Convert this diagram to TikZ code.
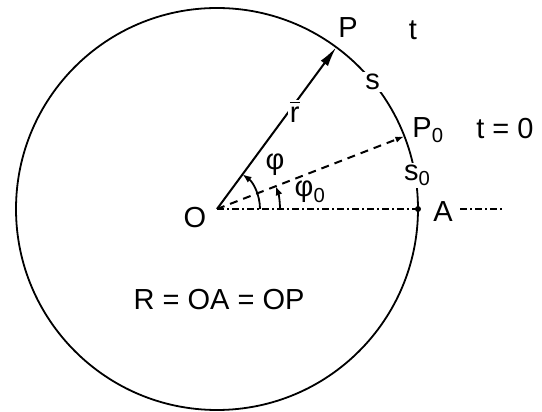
\documentclass[tikz,border=0pt]{standalone}
\usepackage{fontspec}
\setmainfont{Liberation Sans}
\usetikzlibrary{arrows.meta,positioning,calc}
\tikzset{
  lbl/.style={font=\fontsize{29}{31}\selectfont, inner sep=1pt},
  arclbl/.style={lbl, fill=white, inner sep=2pt},
  rim/.style={line width=1.8pt},
  radius vec/.style={line width=2pt, -{Latex[length=20pt,width=9pt]}},
  start vec/.style={line width=2pt, dash pattern=on 8pt off 6pt, -{Latex[length=9pt,width=6pt]}},
  axis/.style={line width=1.6pt, dash pattern=on 7pt off 3pt on 2pt off 3pt},
  anglearc/.style={line width=1.8pt, -{Latex[length=9pt,width=7pt]}},
}
\newcommand{\vecr}{\makebox[0pt][l]{\raisebox{0.66em}{\rule{0.34em}{1.6pt}}}r}
\begin{document}
\begin{tikzpicture}[x=1pt, y=1pt]
  \useasboundingbox (0,0) rectangle (542,412);
  \coordinate (O) at (217,203);
  \draw[rim] (O) circle[radius=201];
  \coordinate (P) at ($(O)+(53.6:201)$);
  \coordinate (P0) at ($(O)+(21.2:201)$);
  \coordinate (A) at ($(O)+(0:201)$);
  \coordinate (ax1) at (460,203);
  \coordinate (ax2) at (503,203);
  % lines from O
  \draw[radius vec] (O) -- (P) node[pos=0.6, arclbl, left=-14pt] (r) {\vecr};
  \draw[start vec] (O) -- (P0);
  \draw[axis] (O) -- (A);
  \draw[axis] (ax1) -- (ax2);
  \fill (A) circle[radius=3pt];
  % angles
  \draw[anglearc] ($(O)+(0:43)$) arc[start angle=0, end angle=53.6, radius=43];
  \draw[anglearc] ($(O)+(0:63)$) arc[start angle=0, end angle=21.2, radius=63];
  % labels
  \node[arclbl] (s) at ($(O)+(39.3:201)$) {s};
  \node[arclbl] (s0) at ($(O)+(9.5:203)$) {s\textsubscript{0}};
  \node[lbl] (lP) at (348,384) {P};
  \node[lbl] (lt) at (413,382) {t};
  \node[lbl] (lP0) at (428,282) {P\textsubscript{0}};
  \node[lbl] (lt0) at (505,283) {t = 0};
  \node[lbl] (lA) at (443,200) {A};
  \node[lbl] (lO) at (195,194) {O};
  \node[lbl] (phi) at (275,247) {φ};
  \node[lbl] (phi0) at (310,220) {φ\textsubscript{0}};
  \node[lbl] (rel) at (219,112) {R = OA = OP};
\end{tikzpicture}
\end{document}
